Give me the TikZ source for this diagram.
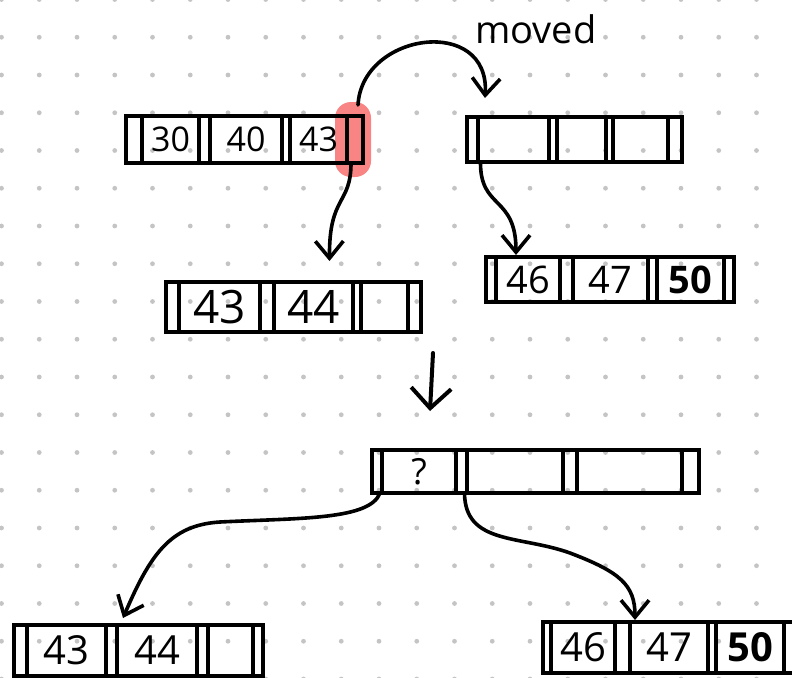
\documentclass[tikz,border=0pt]{standalone}
\usepackage{fontspec}
\setmainfont{Open Sans}
\usetikzlibrary{positioning,arrows.meta}

\definecolor{dotgray}{RGB}{196,196,196}
\definecolor{hilite}{RGB}{248,132,132}

\tikzset{
  slot/.style={draw, line width=3.2pt, inner sep=0pt, outer sep=0pt, minimum width=#1},
  arr/.style={line width=3.6pt, line cap=round, line join=round, -{Straight Barb[length=17pt,width=28pt]}},
}
\newcommand{\hand}[1]{\fontsize{#1}{#1}\selectfont}

\begin{document}
\begin{tikzpicture}[x=1pt, y=-1pt]
  \useasboundingbox (0,0) rectangle (792,677);
  % dot paper
  \foreach \i in {0,...,20}
    \foreach \j in {0,...,18}
      \fill[dotgray] (1.5+37.75*\i, -0.5+37.75*\j) circle (2.4pt);

  % marker on the pointer that moves
  \fill[hilite, rounded corners=16pt] (335,102) rectangle (371,177);

  % full node
  \begin{scope}[shift={(126,116)}, every node/.append style={minimum height=47pt, font=\hand{34}}]
    \node[slot=16, anchor=north west] (old0) at (0,0) {};
    \node[slot=57, right=0pt of old0] (old1) {30};
    \node[slot=11, right=0pt of old1] (old2) {};
    \node[slot=72, right=0pt of old2] (old3) {40};
    \node[slot=8, right=0pt of old3] (old4) {};
    \node[slot=57, right=0pt of old4] (old5) {43};
    \node[slot=16, right=0pt of old5] (old6) {};
  \end{scope}

  % new sibling
  \begin{scope}[shift={(467,117)}, every node/.append style={minimum height=45pt}]
    \node[slot=11, anchor=north west] (new0) at (0,0) {};
    \node[slot=71, right=0pt of new0] (new1) {};
    \node[slot=8, right=0pt of new1] (new2) {};
    \node[slot=49, right=0pt of new2] (new3) {};
    \node[slot=7, right=0pt of new3] (new4) {};
    \node[slot=55, right=0pt of new4] (new5) {};
    \node[slot=14, right=0pt of new5] (new6) {};
  \end{scope}

  % children before the split
  \begin{scope}[shift={(166,282)}, every node/.append style={minimum height=50pt, font=\hand{46}}]
    \node[slot=13, anchor=north west] (oldkid0) at (0,0) {};
    \node[slot=81, right=0pt of oldkid0] (oldkid1) {43};
    \node[slot=14, right=0pt of oldkid1] (oldkid2) {};
    \node[slot=79, right=0pt of oldkid2] (oldkid3) {44};
    \node[slot=8, right=0pt of oldkid3] (oldkid4) {};
    \node[slot=47, right=0pt of oldkid4] (oldkid5) {};
    \node[slot=13, right=0pt of oldkid5] (oldkid6) {};
  \end{scope}

  \begin{scope}[shift={(486,257)}, every node/.append style={minimum height=45pt, font=\hand{38}}]
    \node[slot=10, anchor=north west] (newkid0) at (0,0) {};
    \node[slot=64, right=0pt of newkid0] (newkid1) {46};
    \node[slot=13, right=0pt of newkid1] (newkid2) {};
    \node[slot=75, right=0pt of newkid2] (newkid3) {47};
    \node[slot=9, right=0pt of newkid3] (newkid4) {};
    \node[slot=67, right=0pt of newkid4] (newkid5) {\bfseries 50};
    \node[slot=10, right=0pt of newkid5] (newkid6) {};
  \end{scope}

  % new root
  \begin{scope}[shift={(372,450)}, every node/.append style={minimum height=43pt, font=\hand{36}}]
    \node[slot=10, anchor=north west] (root0) at (0,0) {};
    \node[slot=74, right=0pt of root0] (root1) {?};
    \node[slot=11, right=0pt of root1] (root2) {};
    \node[slot=96, right=0pt of root2] (root3) {};
    \node[slot=14, right=0pt of root3] (root4) {};
    \node[slot=105, right=0pt of root4] (root5) {};
    \node[slot=17, right=0pt of root5] (root6) {};
  \end{scope}

  % children after the split
  \begin{scope}[shift={(14,625)}, every node/.append style={minimum height=51pt, font=\hand{40}}]
    \node[slot=13, anchor=north west] (left0) at (0,0) {};
    \node[slot=79, right=0pt of left0] (left1) {43};
    \node[slot=11, right=0pt of left1] (left2) {};
    \node[slot=80, right=0pt of left2] (left3) {44};
    \node[slot=11, right=0pt of left3] (left4) {};
    \node[slot=45, right=0pt of left4] (left5) {};
    \node[slot=10, right=0pt of left5] (left6) {};
  \end{scope}

  \begin{scope}[shift={(543,622)}, every node/.append style={minimum height=51pt, font=\hand{40}}]
    \node[slot=8, anchor=north west] (right0) at (0,0) {};
    \node[slot=64, right=0pt of right0] (right1) {46};
    \node[slot=15, right=0pt of right1] (right2) {};
    \node[slot=78, right=0pt of right2] (right3) {47};
    \node[slot=8, right=0pt of right3] (right4) {};
    \node[slot=68, right=0pt of right4] (right5) {\bfseries 50};
    \node[slot=12, right=0pt of right5] (right6) {};
  \end{scope}

  \node[font=\hand{38}] (moved) at (536,29) {moved};

  % pointers
  \draw[arr] ([xshift=3pt,yshift=11pt]old6.north) .. controls (362,32) and (490,15) .. ([xshift=7pt,yshift=19pt]new1.north west);
  \draw[arr] ([xshift=-4pt]old6.south) .. controls (351,205) and (329,195) .. ([xshift=16pt,yshift=21pt]oldkid3.north);
  \draw[arr] ([xshift=8pt]new0.south) .. controls (480,210) and (516,195) .. ([xshift=20pt,yshift=2pt]newkid1.north west);

  \coordinate (split) at (433,353);
  \coordinate (after) at (430,411);
  \draw[arr, line width=4pt, -{Straight Barb[length=20pt,width=40pt]}] (split) -- (after);

  \draw[arr] ([xshift=3pt]root0.south) .. controls (370,520) and (300,518) .. (220,522) .. controls (170,525) and (150,555) .. ([xshift=6pt,yshift=7pt]left3.north west);
  \draw[arr] ([xshift=3pt]root2.south) .. controls (465,545) and (520,535) .. (570,553) .. controls (620,572) and (635,585) .. ([xshift=5pt,yshift=2pt]right3.north west);
\end{tikzpicture}
\end{document}
